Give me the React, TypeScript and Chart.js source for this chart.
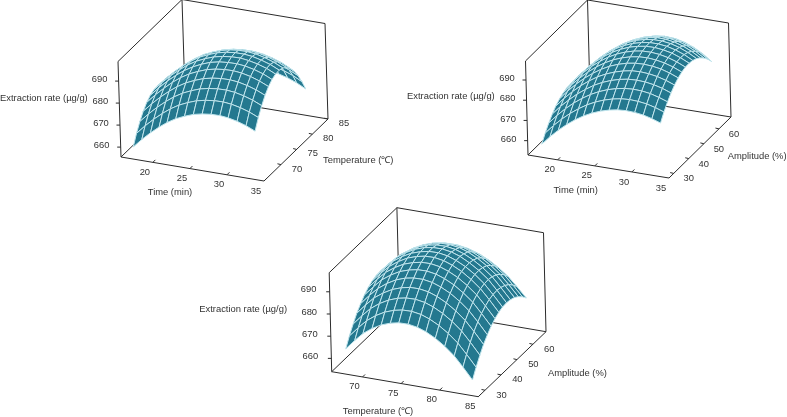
import React, { useEffect, useRef } from "react";
import { Chart, registerables } from "chart.js";
Chart.register(...registerables);

const zTicks = [660, 670, 680, 690];
const timeTicks = [20, 25, 30, 35];
const tempTicks = [70, 75, 80, 85];
const ampTicks = [30, 40, 50, 60];

const p1Time = [17.4,18.6,19.8,21.0,22.1,23.3,24.5,25.7,26.9,28.1,29.3,30.4,31.6,32.8,34.0];
const p1Temp = [64.6,65.75,66.9,68.05,69.2,70.35,71.5,72.65,73.8,74.95,76.1,77.25,78.4,79.55,80.7];
const p2Time = [17.9,19.05,20.2,21.35,22.5,23.65,24.8,26,27.15,28.3,29.45,30.6,31.75,32.9,34.05];
const p2Amp = [26.9,29.3,31.8,34.2,36.6,39.1,41.5,43.9,46.4,48.8,51.3,53.7,56.1,58.6,61];
const p3Temp = [67.9,69.1,70.2,71.4,72.6,73.8,74.9,76.1,77.3,78.4,79.6,80.8,82,83.1,84.3];
const p3Amp = [25.8,28.2,30.7,33.1,35.6,38,40.5,42.9,45.3,47.8,50.2,52.7,55.1,57.6,60];

// Extraction rate: one row per temperature, one column per time
const rateTimeTemp = [
  [661.0,665.1,668.8,672.1,674.8,677.2,679.0,680.5,681.4,681.9,682.0,681.6,680.7,679.4,677.6],
  [665.6,669.7,673.4,676.7,679.4,681.8,683.6,685.1,686.0,686.5,686.6,686.2,685.3,684.0,682.2],
  [669.4,673.5,677.2,680.5,683.2,685.6,687.4,688.9,689.8,690.3,690.4,690.0,689.1,687.8,686.0],
  [672.5,676.6,680.3,683.6,686.3,688.7,690.5,692.0,692.9,693.4,693.5,693.1,692.2,690.9,689.1],
  [674.9,679.0,682.7,686.1,688.8,691.2,693.0,694.5,695.4,695.9,696.0,695.6,694.7,693.3,691.5],
  [676.5,680.6,684.4,687.7,690.4,692.8,694.7,696.2,697.1,697.5,697.6,697.2,696.3,695.0,693.1],
  [677.4,681.6,685.3,688.6,691.4,693.8,695.6,697.1,698.0,698.5,698.6,698.1,697.2,695.9,694.0],
  [677.6,681.8,685.5,688.9,691.6,694.1,695.9,697.4,698.3,698.8,698.8,698.4,697.4,696.1,694.2],
  [677.0,681.2,685.0,688.4,691.1,693.6,695.4,696.9,697.8,698.3,698.3,697.9,696.9,695.5,693.6],
  [675.6,679.8,683.6,687.0,689.8,692.3,694.1,695.6,696.5,696.9,697.0,696.5,695.5,694.1,692.2],
  [673.6,677.9,681.7,685.1,687.9,690.4,692.2,693.7,694.6,695.1,695.1,694.6,693.6,692.2,690.2],
  [670.8,675.1,679.0,682.4,685.2,687.7,689.5,691.0,691.9,692.4,692.4,691.9,690.9,689.4,687.4],
  [667.2,671.5,675.4,678.9,681.7,684.2,686.1,687.6,688.5,689.0,689.0,688.4,687.3,685.8,683.8],
  [662.9,667.3,671.2,674.7,677.5,680.0,681.9,683.4,684.3,684.7,684.7,684.2,683.1,681.6,679.5],
  [657.9,662.3,666.3,669.8,672.7,675.2,677.1,678.6,679.5,679.9,679.9,679.3,678.2,676.6,674.5],
];

// Extraction rate: one row per amplitude, one column per time
const rateTimeAmp = [
  [659.4,663.8,667.7,671.2,674.2,676.8,678.9,680.6,681.8,682.6,682.9,682.7,682.1,681.0,679.5],
  [663.1,667.5,671.4,674.9,677.9,680.5,682.6,684.3,685.5,686.3,686.6,686.4,685.8,684.7,683.2],
  [666.3,670.7,674.7,678.2,681.2,683.8,685.9,687.6,688.8,689.6,689.9,689.7,689.1,687.9,686.4],
  [668.9,673.4,677.3,680.9,683.9,686.6,688.7,690.4,691.6,692.4,692.6,692.4,691.7,690.6,689.0],
  [671.1,675.6,679.6,683.2,686.3,689.0,691.1,692.8,694.0,694.8,695.0,694.7,694.0,692.8,691.2],
  [672.8,677.4,681.5,685.1,688.2,690.9,693.1,694.8,696.0,696.7,696.9,696.6,695.9,694.6,692.9],
  [673.9,678.6,682.7,686.4,689.6,692.3,694.5,696.2,697.4,698.1,698.3,697.9,697.1,695.8,694.0],
  [674.6,679.4,683.6,687.4,690.6,693.4,695.6,697.3,698.5,699.2,699.3,698.9,698.0,696.6,694.7],
  [674.7,679.6,684.0,687.8,691.1,693.9,696.1,697.9,699.0,699.7,699.8,699.3,698.4,696.8,694.8],
  [674.3,679.4,683.8,687.8,691.1,694.0,696.2,698.0,699.1,699.8,699.8,699.3,698.2,696.6,694.4],
  [673.4,678.6,683.2,687.3,690.7,693.6,695.9,697.7,698.8,699.4,699.4,698.8,697.6,695.8,693.5],
  [672.0,677.4,682.1,686.3,689.8,692.8,695.1,696.9,698.0,698.6,698.5,697.8,696.5,694.6,692.1],
  [670.1,675.7,680.6,684.9,688.5,691.6,693.9,695.7,696.8,697.4,697.2,696.4,695.0,692.9,690.2],
  [667.7,673.5,678.5,683.0,686.7,689.9,692.3,694.1,695.2,695.7,695.4,694.5,692.9,690.7,687.8],
  [664.8,670.8,676.0,680.6,684.5,687.7,690.2,692.0,693.1,693.5,693.2,692.1,690.4,688.0,684.9],
];

// Extraction rate: one row per amplitude, one column per temperature
const rateTempAmp = [
  [665.4,669.9,673.7,676.7,679.0,680.5,681.3,681.4,680.7,679.3,677.1,674.2,670.6,666.2,661.1],
  [669.5,674.0,677.8,680.8,683.1,684.6,685.4,685.5,684.8,683.4,681.2,678.3,674.7,670.3,665.2],
  [673.2,677.7,681.5,684.5,686.8,688.3,689.1,689.2,688.5,687.1,684.9,682.0,678.4,674.0,668.9],
  [676.4,680.9,684.7,687.6,689.9,691.4,692.2,692.3,691.6,690.2,688.0,685.1,681.5,677.2,672.1],
  [679.0,683.5,687.2,690.2,692.5,694.0,694.7,694.8,694.1,692.7,690.6,687.7,684.1,679.8,674.7],
  [681.2,685.6,689.4,692.3,694.6,696.0,696.8,696.9,696.2,694.8,692.7,689.8,686.3,681.9,676.9],
  [682.9,687.3,691.0,693.9,696.2,697.6,698.4,698.5,697.8,696.4,694.3,691.4,687.9,683.6,678.6],
  [684.1,688.5,692.1,695.0,697.3,698.7,699.5,699.6,698.9,697.5,695.4,692.5,689.0,684.8,679.8],
  [684.8,689.1,692.8,695.6,697.8,699.2,700.0,700.1,699.4,698.0,695.9,693.1,689.6,685.4,680.5],
  [685.0,689.3,692.9,695.7,697.9,699.3,700.0,700.1,699.4,698.1,695.9,693.2,689.8,685.6,680.7],
  [684.7,688.9,692.5,695.2,697.4,698.8,699.5,699.6,698.9,697.6,695.5,692.8,689.4,685.2,680.4],
  [684.0,688.1,691.6,694.4,696.5,697.9,698.6,698.6,698.0,696.7,694.6,691.9,688.5,684.4,679.7],
  [682.7,686.8,690.2,692.9,695.0,696.3,697.0,697.1,696.4,695.1,693.1,690.4,687.1,683.1,678.4],
  [680.9,684.9,688.3,690.9,693.0,694.3,694.9,695.0,694.3,693.1,691.1,688.4,685.2,681.2,676.6],
  [678.7,682.6,685.9,688.5,690.5,691.8,692.4,692.5,691.8,690.6,688.6,686.0,682.8,678.9,674.4],
];

type Txt = { t: string; x: number; y: number; align: CanvasTextAlign };
type Panel = {
  box: [number, number, number, number];
  O: [number, number]; U: [number, number]; V: [number, number]; Z: [number, number];
  uDom: [number, number]; vDom: [number, number]; zDom: [number, number];
  uGrid: number[]; vGrid: number[]; z: number[][];
  uTicks: number[]; vTicks: number[];
  zOff: [number, number]; uOff: [number, number]; vOff: [number, number];
  titles: Txt[];
};

const panels: Panel[] = [
  {
    box: [0, 0, 400, 205], O: [121, 157], U: [143, 24], V: [64, -62], Z: [-3, -95.5],
    uDom: [15.7, 35], vDom: [64.6, 85], zDom: [655.5, 698.9],
    uGrid: p1Time, vGrid: p1Temp, z: rateTimeTemp, uTicks: timeTicks, vTicks: tempTicks,
    zOff: [-19, -1.5], uOff: [-8, 10], vOff: [16, 4.5],
    titles: [
      { t: "Extraction rate (µg/g)", x: 0, y: 98, align: "left" },
      { t: "Time (min)", x: 170, y: 192, align: "center" },
      { t: "Temperature (℃)", x: 323, y: 160, align: "left" },
    ],
  },
  {
    box: [400, 0, 387, 205], O: [528, 155], U: [141, 23], V: [62, -61], Z: [-2.5, -94],
    uDom: [16, 35], vDom: [26.9, 68], zDom: [652.9, 699.4],
    uGrid: p2Time, vGrid: p2Amp, z: rateTimeAmp, uTicks: timeTicks, vTicks: ampTicks,
    zOff: [-19, -1.5], uOff: [-8, 10], vOff: [15, 5.5],
    titles: [
      { t: "Extraction rate (µg/g)", x: 407, y: 96.7, align: "left" },
      { t: "Time (min)", x: 575.7, y: 190, align: "center" },
      { t: "Amplitude (%)", x: 727.7, y: 156.7, align: "left" },
    ],
  },
  {
    box: [190, 205, 450, 212], O: [331.7, 371.7], U: [146.6, 25], V: [67.7, -65], Z: [-2.5, -99],
    uDom: [66, 85], vDom: [25.8, 68.2], zDom: [654, 698.6],
    uGrid: p3Temp, vGrid: p3Amp, z: rateTempAmp, uTicks: tempTicks, vTicks: ampTicks,
    zOff: [-21, -2], uOff: [-8, 9.5], vOff: [16.4, 4.7],
    titles: [
      { t: "Extraction rate (µg/g)", x: 199.3, y: 309, align: "left" },
      { t: "Temperature (℃)", x: 378, y: 411, align: "center" },
      { t: "Amplitude (%)", x: 548, y: 373, align: "left" },
    ],
  },
];

const FILL = "#24788f";
const MESH = "#bfe4ec";
const AXIS = "#2b2b2b";
const FONT = "9.4px 'Liberation Sans', Arial, sans-serif";

function project(p: Panel, a: number, b: number, c: number) {
  const u = (a - p.uDom[0]) / (p.uDom[1] - p.uDom[0]);
  const v = (b - p.vDom[0]) / (p.vDom[1] - p.vDom[0]);
  const w = (c - p.zDom[0]) / (p.zDom[1] - p.zDom[0]);
  return {
    x: p.O[0] + u * p.U[0] + v * p.V[0] + w * p.Z[0],
    y: p.O[1] + u * p.U[1] + v * p.V[1] + w * p.Z[1],
  };
}

function buildDatasets(p: Panel) {
  const ds: any[] = [];
  const cols = p.uGrid.length;
  const rows = p.vGrid.length;
  // The first dataset is painted last, so the front-most cells come first.
  for (let j = 0; j < rows - 1; j++) {
    for (let i = cols - 2; i >= 0; i--) {
      const pts = [
        project(p, p.uGrid[i], p.vGrid[j], p.z[j][i]),
        project(p, p.uGrid[i + 1], p.vGrid[j], p.z[j][i + 1]),
        project(p, p.uGrid[i + 1], p.vGrid[j + 1], p.z[j + 1][i + 1]),
        project(p, p.uGrid[i], p.vGrid[j + 1], p.z[j + 1][i]),
      ];
      ds.push({
        data: [...pts, pts[0]], borderColor: MESH, backgroundColor: FILL, borderWidth: 1,
        fill: "shape", pointRadius: 0, tension: 0,
      });
    }
  }
  const line = (q: { x: number; y: number }[]) =>
    ds.push({ data: q, borderColor: AXIS, borderWidth: 1, fill: false, pointRadius: 0, tension: 0 });
  const [u0, u1] = p.uDom, [v0, v1] = p.vDom, [z0, z1] = p.zDom;
  const P = (a: number, b: number, c: number) => project(p, a, b, c);
  line([P(u0, v0, z1), P(u0, v0, z0), P(u1, v0, z0), P(u1, v1, z0), P(u1, v1, z1), P(u0, v1, z1), P(u0, v0, z1)]);
  line([P(u0, v1, z1), P(u0, v1, z0), P(u1, v1, z0)]);
  line([P(u0, v0, z0), P(u0, v1, z0)]);
  for (const t of zTicks) {
    const a = P(u0, v0, t);
    line([a, { x: a.x - 3.5, y: a.y }]);
  }
  for (const t of p.uTicks) {
    const a = P(t, v0, z0);
    line([a, { x: a.x + 2.5, y: a.y - 2.5 }]);
  }
  for (const t of p.vTicks) {
    const a = P(u1, t, z0);
    line([a, { x: a.x - 3.5, y: a.y - 0.8 }]);
  }
  return ds;
}

function PanelChart({ p }: { p: Panel }) {
  const ref = useRef<HTMLCanvasElement>(null);
  useEffect(() => {
    const [bx, by, bw, bh] = p.box;
    const textPlugin = {
      id: "panelText",
      afterDraw(chart: any) {
        const c = chart.ctx;
        const sx = chart.scales.x, sy = chart.scales.y;
        c.save();
        c.font = FONT;
        c.fillStyle = "#333333";
        c.textBaseline = "middle";
        const put = (t: string, x: number, y: number, align: CanvasTextAlign) => {
          c.textAlign = align;
          c.fillText(t, sx.getPixelForValue(x), sy.getPixelForValue(y));
        };
        for (const t of zTicks) {
          const a = project(p, p.uDom[0], p.vDom[0], t);
          put(String(t), a.x + p.zOff[0], a.y + p.zOff[1], "center");
        }
        for (const t of p.uTicks) {
          const a = project(p, t, p.vDom[0], p.zDom[0]);
          put(String(t), a.x + p.uOff[0], a.y + p.uOff[1], "center");
        }
        for (const t of p.vTicks) {
          const a = project(p, p.uDom[1], t, p.zDom[0]);
          put(String(t), a.x + p.vOff[0], a.y + p.vOff[1], "center");
        }
        for (const t of p.titles) put(t.t, t.x, t.y, t.align);
        c.restore();
      },
    };
    const chart = new Chart(ref.current as HTMLCanvasElement, {
      type: "line",
      data: { datasets: buildDatasets(p) },
      options: {
        animation: false,
        responsive: false,
        events: [],
        layout: { padding: 0 },
        plugins: { legend: { display: false }, tooltip: { enabled: false } },
        scales: {
          x: { type: "linear", display: false, min: bx, max: bx + bw },
          y: { type: "linear", display: false, min: by, max: by + bh, reverse: true },
        },
      },
      plugins: [textPlugin],
    } as any);
    return () => chart.destroy();
  }, [p]);
  const [bx, by, bw, bh] = p.box;
  return (
    <canvas
      ref={ref}
      width={bw}
      height={bh}
      style={{ position: "absolute", left: bx, top: by, width: bw, height: bh }}
    />
  );
}

export default function App() {
  return (
    <div style={{ position: "absolute", left: 0, top: 0, width: 787, height: 417, overflow: "hidden", background: "#fff" }}>
      {panels.map((p, i) => (
        <PanelChart key={i} p={p} />
      ))}
    </div>
  );
}
